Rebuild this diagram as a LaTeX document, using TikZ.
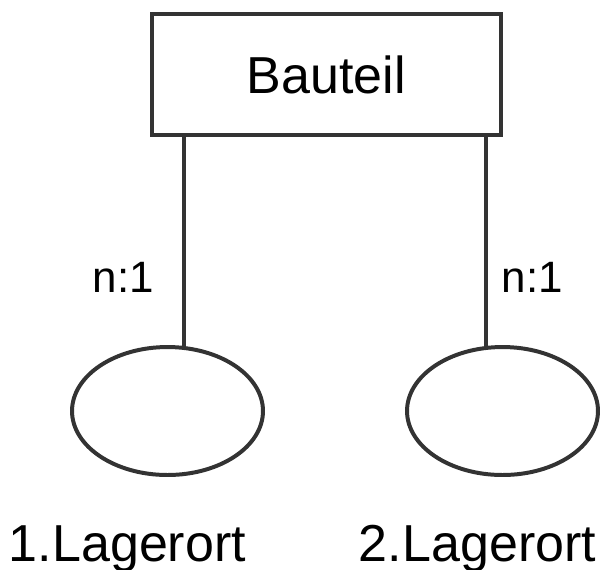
\documentclass[tikz,border=0pt]{standalone}
\usepackage{fontspec}
\setmainfont{Liberation Sans}
\usetikzlibrary{shapes.geometric, positioning}
\definecolor{edgecolor}{RGB}{51, 51, 51}

\begin{document}
\begin{tikzpicture}[
    x=0.02cm, y=-0.02cm,
    entity/.style={draw=edgecolor, line width=2.27pt, minimum width=6.98cm, minimum height=2.42cm, text centered, font=\fontsize{29.6}{35}\selectfont},
    attribute/.style={draw=edgecolor, line width=2.27pt, ellipse, inner sep=0pt, minimum width=3.82cm, minimum height=2.56cm},
    card/.style={anchor=base, font=\fontsize{25}{30}\selectfont},
    caption/.style={anchor=base, font=\fontsize{29.6}{35}\selectfont},
    link/.style={draw=edgecolor, line width=2.27pt}
]
\useasboundingbox (0, 0) rectangle (607, 569);

% Entity and attributes
\node[entity] (bauteil) at (326.5, 74.5) {Bauteil};
\node[attribute] (ort1) at (167.5, 411) {};
\node[attribute] (ort2) at (502.5, 411) {};

% Connections
\draw[link] (ort1.76) -- (ort1.76 |- bauteil.south);
\draw[link] (ort2.104) -- (ort2.104 |- bauteil.south);

% Cardinalities
\node[card] (card1) at (123.5, 292) {n:1};
\node[card] (card2) at (532.5, 292) {n:1};

% Captions
\node[caption] (name1) at (127.5, 561) {1.Lagerort};
\node[caption] (name2) at (477.5, 561) {2.Lagerort};

\end{tikzpicture}
\end{document}
